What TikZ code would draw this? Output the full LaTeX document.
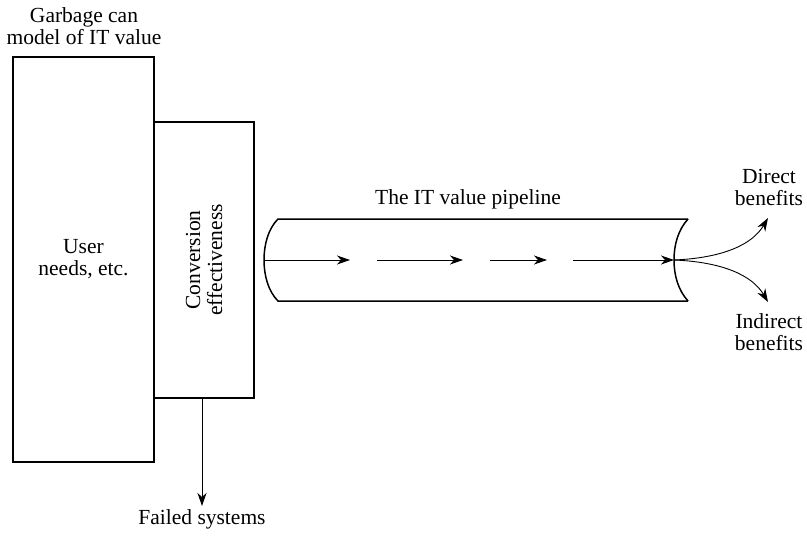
\documentclass[tikz,border=0pt]{standalone}
\usepackage{fontspec}
\setmainfont{Liberation Serif}
\usetikzlibrary{arrows.meta}
\begin{document}
\begin{tikzpicture}[x=1pt,y=-1pt,
  box/.style={draw,line width=1.5pt,inner sep=0pt},
  lbl/.style={align=center,font=\fontsize{21.5}{22}\selectfont,inner sep=0pt},
  flow/.style={line width=0.9pt,-{Stealth[length=13pt,width=9pt,inset=4pt]}},
  pipe/.style={line width=1.5pt}]
\useasboundingbox (0,0) rectangle (807,538);
% left boxes
\node[box,minimum width=141pt,minimum height=405pt] (user) at (83.5,259.5) {};
\node[box,minimum width=100pt,minimum height=276pt] (conv) at (204,260) {};
\node[lbl] at (user.center) {User\\needs, etc.};
\node[lbl,rotate=90] at (conv.center) {Conversion\\effectiveness};
\node[lbl] (title) at (84,26) {Garbage can\\model of IT value};
\node[lbl] (failed) at (202,519) {Failed systems};
\coordinate (fdown) at (202,506);
\draw[flow] (conv.south -| fdown) -- (fdown);
% the pipeline body
\draw[pipe] (688,219) -- (278,219) .. controls (268,229) and (264,245) .. (264,260)
  .. controls (264,275) and (268,291) .. (278,301) -- (688,301);
\draw[pipe] (688,219) .. controls (678,230) and (674,245) .. (674,260)
  .. controls (674,275) and (678,290) .. (688,301);
\node[lbl] (pl) at (468,199) {The IT value pipeline};
% flow through the pipeline
\coordinate (p0) at (264,260);
\coordinate (p1) at (350,260);
\coordinate (p2) at (377,260);
\coordinate (p3) at (463,260);
\coordinate (p4) at (490,260);
\coordinate (p5) at (547,260);
\coordinate (p6) at (573,260);
\coordinate (p7) at (674,260);
\draw[flow] (p0) -- (p1);
\draw[flow] (p2) -- (p3);
\draw[flow] (p4) -- (p5);
\draw[flow] (p6) -- (p7);
% outcomes
\node[lbl] (direct) at (769,187) {Direct\\benefits};
\node[lbl] (indirect) at (769,332) {Indirect\\benefits};
\coordinate (dt) at (768,218);
\coordinate (it) at (768,302);
\draw[flow] (p7) .. controls (722,258) and (752,245) .. (dt);
\draw[flow] (p7) .. controls (722,262) and (752,275) .. (it);
\end{tikzpicture}
\end{document}
